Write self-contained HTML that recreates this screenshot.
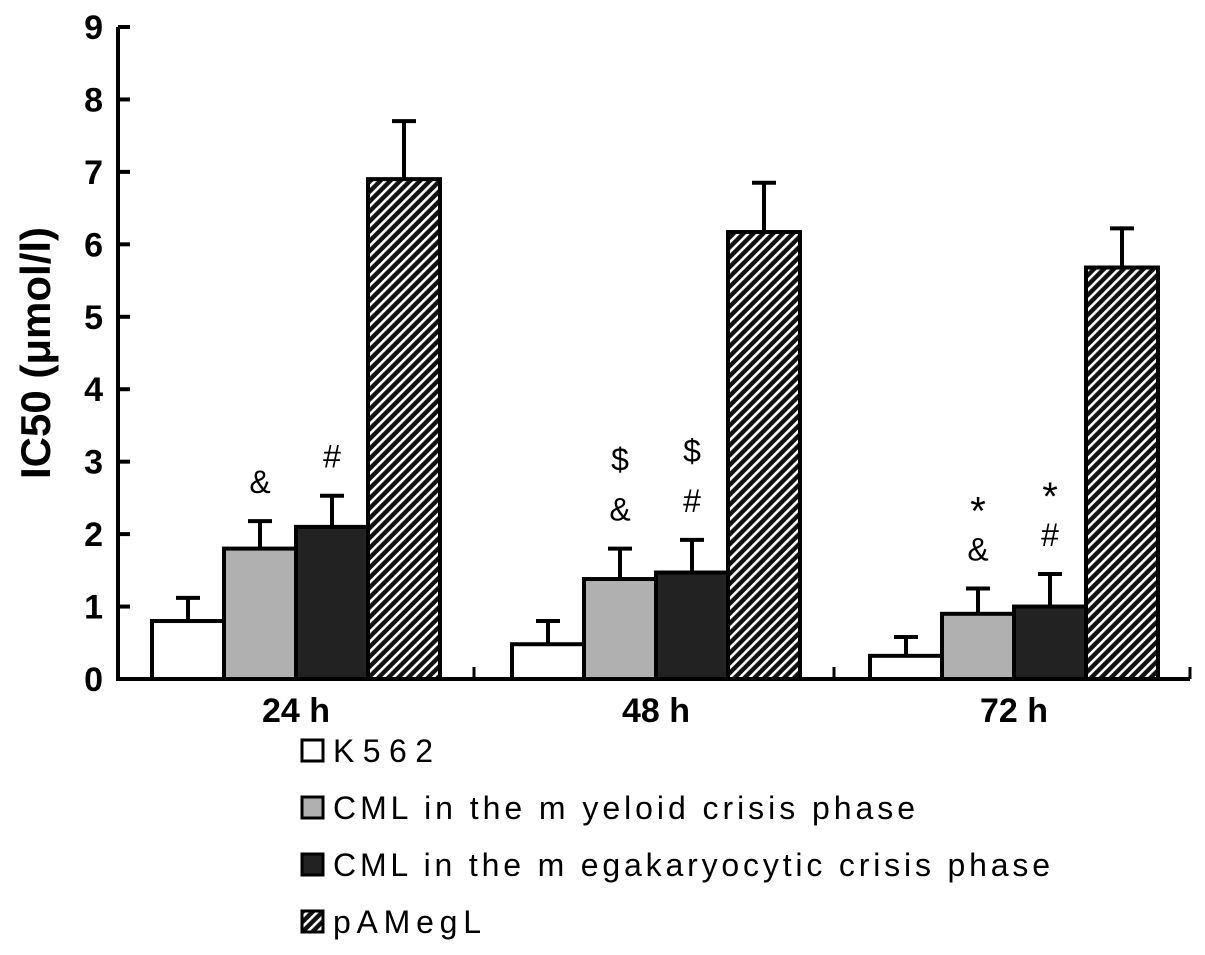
<!DOCTYPE html>
<html><head><meta charset="utf-8"><style>
body{margin:0;background:#fff;}
svg text{font-family:"Liberation Sans",Arial,sans-serif;}
</style></head><body>
<svg id="chart" width="1205" height="950" viewBox="0 0 1205 950" xmlns="http://www.w3.org/2000/svg">
<defs>
<pattern id="hatch" patternUnits="userSpaceOnUse" width="7" height="7" patternTransform="rotate(45)">
<rect width="7" height="7" fill="#111"/>
<rect x="0" y="0" width="2.6" height="7" fill="#fff"/>
</pattern>
</defs>
<g id="plot"></g>
<text transform="translate(50,353) rotate(-90)" text-anchor="middle" font-size="42" font-weight="bold">IC50 (μmol/l)</text>
<g id="legend"></g>
</svg>
<script>
const categories = ["24 h","48 h","72 h"];
const seriesNames = ["K562","CML in the m yeloid crisis phase","CML in the m egakaryocytic crisis phase","pAMegL"];
const k562 = [0.8,0.48,0.32];
const myeloid = [1.8,1.38,0.9];
const megak = [2.1,1.47,1.0];
const pamegl = [6.9,6.17,5.68];
const k562Err = [0.32,0.32,0.26];
const myeloidErr = [0.38,0.42,0.35];
const megakErr = [0.43,0.45,0.45];
const pameglErr = [0.8,0.68,0.54];
const yTicks = [0,1,2,3,4,5,6,7,8,9];
const annotations = [[[],["&"],["#"],[]],[[],["$","&"],["$","#"],[]],[[],["*","&"],["*","#"],[]]];

const NS="http://www.w3.org/2000/svg";
const x0=118,x1=1190,y0=679,yTop=27;
const y=v=>y0-(v/9)*(y0-yTop);
const groupLeft=[152,512,870], barW=72;
const fills=["#fff","#b0b0b0","#222","url(#hatch)"];
const vals=[k562,myeloid,megak,pamegl], errs=[k562Err,myeloidErr,megakErr,pameglErr];
const plot=document.getElementById('plot');
function mk(tag,attrs,parent){const e=document.createElementNS(NS,tag);for(const k in attrs)e.setAttribute(k,attrs[k]);(parent||plot).appendChild(e);return e;}
categories.forEach((c,gi)=>{
  vals.forEach((arr,si)=>{
    const bx=groupLeft[gi]+si*barW, v=arr[gi], top=y(v+errs[si][gi]);
    const cx=bx+barW/2;
    const el=mk('line',{x1:cx,x2:cx,y1:y(v),y2:top,stroke:'#000','stroke-width':4});
    
    
    const cap=mk('line',{x1:cx-12,x2:cx+12,y1:top,y2:top,stroke:'#000','stroke-width':4});
    
    
    const r=mk('rect',{x:bx,y:y(v),width:barW,height:y0-y(v),fill:fills[si],stroke:'#000','stroke-width':4});
    
    
    const ann=annotations[gi][si];
    ann.forEach((s,ai)=>{
      const t=mk('text',{x:cx,y:top-28-(ann.length-1-ai)*50,'text-anchor':'middle','font-size':s==='*'?40:32,fill:'#000'});
      if(s==='*') t.setAttribute('y',top-14-(ann.length-1-ai)*50);
      t.textContent=s;
      
      
    });
  });
  const lbl=mk('text',{x:groupLeft[gi]+2*barW,y:722,'text-anchor':'middle','font-size':34,'font-weight':'bold'});
  lbl.textContent=c;
  
  
});
const ax=mk('path',{d:`M${x0},${yTop}V${y0}H${x1}`,fill:'none',stroke:'#000','stroke-width':4});


yTicks.forEach(t=>{
  const l=mk('line',{x1:x0,x2:x0+12,y1:y(t),y2:y(t),stroke:'#000','stroke-width':4});
  
  
  const tx=mk('text',{x:103,y:y(t)+12,'text-anchor':'end','font-size':34,'font-weight':'bold'});
  tx.textContent=t;
  
  
});
[474,834,1190].forEach(px=>{
  const l=mk('line',{x1:px,x2:px,y1:y0,y2:y0-12,stroke:'#000','stroke-width':3});
  
  
});
const legW=[100,582,717,148];
const leg=document.getElementById('legend');
seriesNames.forEach((n,i)=>{
  const ly=750+i*57;
  const r=mk('rect',{x:302,y:ly-10,width:21,height:21,fill:fills[i],stroke:'#000','stroke-width':3},leg);
  
  
  const t=mk('text',{x:333,y:ly+12,'font-size':32,fill:'#000',textLength:legW[i],lengthAdjust:'spacing'},leg);
  t.textContent=n;
  
  
});
</script>
</body></html>
